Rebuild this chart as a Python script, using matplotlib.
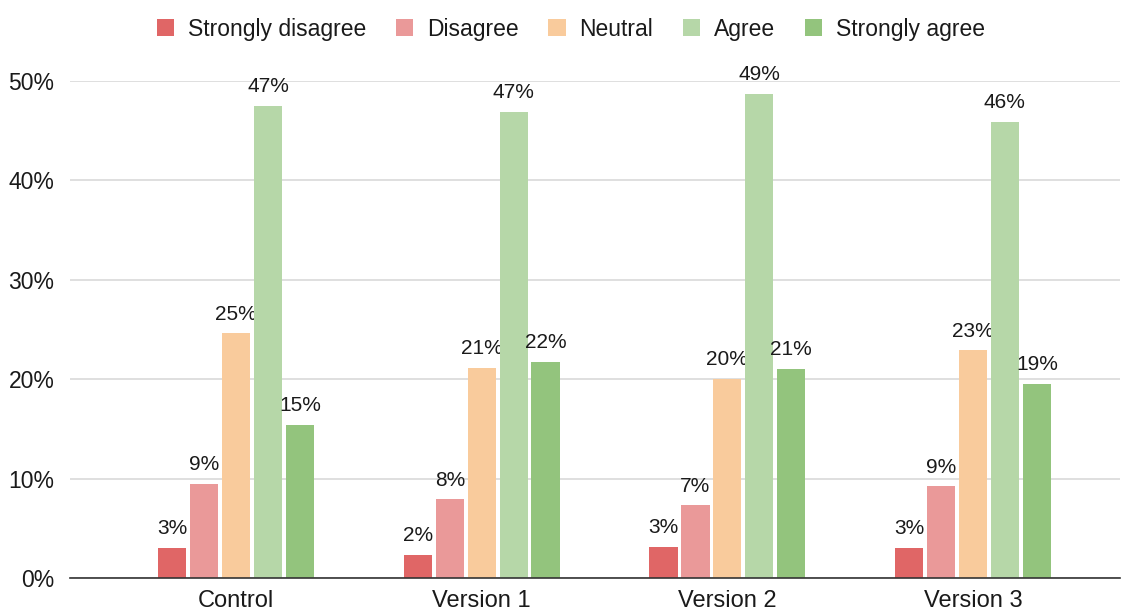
import matplotlib
matplotlib.use("Agg")
import matplotlib.pyplot as plt
import numpy as np

categories = ["Control", "Version 1", "Version 2", "Version 3"]
series_names = ["Strongly disagree", "Disagree", "Neutral", "Agree", "Strongly agree"]
strongly_disagree = [3.0, 2.3, 3.1, 3.0]
disagree = [9.5, 7.9, 7.3, 9.2]
neutral = [24.6, 21.1, 20.0, 22.9]
agree = [47.5, 46.9, 48.7, 45.9]
strongly_agree = [15.4, 21.7, 21.0, 19.5]
labels = [
    ["3%", "2%", "3%", "3%"],
    ["9%", "8%", "7%", "9%"],
    ["25%", "21%", "20%", "23%"],
    ["47%", "47%", "49%", "46%"],
    ["15%", "22%", "21%", "19%"],
]
colors = ["#e06666", "#ea9999", "#f9cb9c", "#b6d7a8", "#93c47d"]
series = [strongly_disagree, disagree, neutral, agree, strongly_agree]

plt.rcParams["font.family"] = ["Liberation Sans", "DejaVu Sans"]

fig = plt.figure(figsize=(11.26, 6.12), dpi=100)
ax = fig.add_axes([0.062, 0.0556, 0.933, 0.8124])

x = np.arange(len(categories))
pitch = 0.13
width = 0.115
for i, (vals, c, name) in enumerate(zip(series, colors, series_names)):
    pos = x + (i - 2) * pitch
    ax.bar(pos, vals, width=width, color=c, label=name, zorder=3)
    for xb, v, lab in zip(pos, vals, labels[i]):
        ax.annotate(lab, (xb, v), xytext=(0, 7), textcoords="offset points",
                    ha="center", va="bottom", fontsize=15, color="#1a1a1a",
                    annotation_clip=False)

ax.set_xlim(-0.677, 3.6)
ax.set_ylim(0, 50)
ax.set_yticks([0, 10, 20, 30, 40, 50])
ax.set_yticklabels(["0%", "10%", "20%", "30%", "40%", "50%"])
ax.set_xticks(x)
ax.set_xticklabels(categories)
ax.tick_params(axis="y", length=0, labelsize=16.5, colors="#1a1a1a", pad=11)
ax.tick_params(axis="x", length=0, labelsize=17, colors="#1a1a1a", pad=9)
ax.grid(axis="y", color="#d9d9d9", linewidth=1.2, zorder=0)
for s in ["top", "right", "left"]:
    ax.spines[s].set_visible(False)
ax.spines["bottom"].set_color("#333333")
ax.spines["bottom"].set_linewidth(1.2)
ax.spines["bottom"].set_zorder(4)

fig.legend(loc="upper center", bbox_to_anchor=(0.507, 1.005), ncol=5, frameon=False,
           fontsize=16.5, handlelength=0.75, handleheight=0.75, handletextpad=0.6,
           columnspacing=1.3, labelcolor="#1a1a1a")

fig.savefig("out.png", dpi=100, facecolor="white")
